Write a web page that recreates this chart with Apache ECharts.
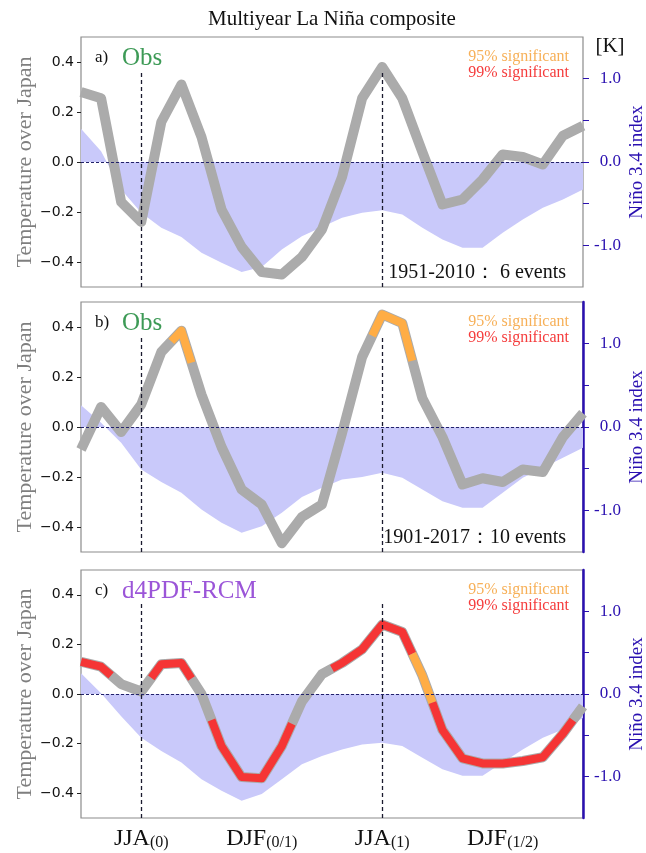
<!DOCTYPE html>
<html>
<head>
<meta charset="utf-8">
<script src="https://cdn.jsdelivr.net/npm/echarts@6.0.0/dist/echarts.min.js"></script>
<style>
  html, body { margin: 0; padding: 0; background: #fff; }
  #chart { width: 646px; height: 853px; }
</style>
</head>
<body>
<div id="chart"></div>
<script>
// months from Apr(0) to May(2)
const months = ['Apr(0)','May(0)','Jun(0)','Jul(0)','Aug(0)','Sep(0)','Oct(0)','Nov(0)','Dec(0)',
  'Jan(1)','Feb(1)','Mar(1)','Apr(1)','May(1)','Jun(1)','Jul(1)','Aug(1)','Sep(1)','Oct(1)','Nov(1)','Dec(1)',
  'Jan(2)','Feb(2)','Mar(2)','Apr(2)','May(2)'];
const seasonMonths = ['Jul(0)', 'Jan(1)', 'Jul(1)', 'Jan(2)'];
const seasonNames = ['JJA', 'DJF', 'JJA', 'DJF'];
const seasonYears = ['(0)', '(0/1)', '(1)', '(1/2)'];

// temperature over Japan [K]
const tempA = [0.28, 0.255, -0.16, -0.24, 0.16, 0.31, 0.10, -0.19, -0.34, -0.44, -0.45, -0.38, -0.27,
  -0.06, 0.255, 0.38, 0.255, 0.04, -0.17, -0.15, -0.07, 0.03, 0.02, -0.01, 0.105, 0.145];
const tempB = [-0.09, 0.08, -0.02, 0.09, 0.30, 0.385, 0.13, -0.08, -0.25, -0.31, -0.465, -0.36, -0.31,
  -0.025, 0.28, 0.45, 0.415, 0.115, -0.04, -0.23, -0.205, -0.22, -0.17, -0.18, -0.04, 0.055];
const tempC = [0.13, 0.11, 0.04, 0.01, 0.12, 0.125, 0.0, -0.21, -0.335, -0.34, -0.21, -0.03, 0.08,
  0.125, 0.18, 0.28, 0.25, 0.075, -0.145, -0.26, -0.28, -0.28, -0.27, -0.255, -0.16, -0.05];

// significance: 0 none, 1 95%, 2 99%
const sigA = [0,0,0,0,0,0,0,0,0,0,0,0,0,0,0,0,0,0,0,0,0,0,0,0,0,0];
const sigB = [0,0,0,0,0,1,0,0,0,0,0,0,0,0,0,1,1,0,0,0,0,0,0,0,0,0];
const sigC = [2,2,0,0,2,2,0,2,2,2,2,0,0,2,2,2,2,1,2,2,2,2,2,2,2,0];

// Nino 3.4 index
const ninoA = [0.40, 0.13, -0.33, -0.61, -0.79, -0.90, -1.09, -1.21, -1.32, -1.26, -1.05, -0.89, -0.78,
  -0.67, -0.61, -0.58, -0.63, -0.79, -0.93, -1.03, -1.03, -0.85, -0.69, -0.55, -0.45, -0.33];
const ninoB = [0.26, 0.05, -0.19, -0.51, -0.66, -0.79, -0.99, -1.15, -1.27, -1.19, -1.03, -0.84, -0.73,
  -0.63, -0.60, -0.55, -0.61, -0.75, -0.89, -0.97, -0.97, -0.79, -0.61, -0.49, -0.37, -0.25];
const ninoC = [0.25, 0.01, -0.27, -0.53, -0.69, -0.83, -1.03, -1.17, -1.29, -1.21, -1.03, -0.85, -0.75,
  -0.67, -0.61, -0.59, -0.63, -0.77, -0.91, -0.99, -0.99, -0.83, -0.67, -0.53, -0.43, -0.29];

const tempTicks = [-0.4, -0.2, 0, 0.2, 0.4];
const ninoLabels = [-1, 0, 1];
const ninoTicks = [-1, -0.5, 0, 0.5, 1];

const panels = [
  { tag: 'a)', src: 'Obs', srcColor: '#3d9a56', period: '1951-2010\uFF1A 6 events',
    temp: tempA, sig: sigA, nino: ninoA, top: 37, height: 250, blueSpine: false },
  { tag: 'b)', src: 'Obs', srcColor: '#3d9a56', period: '1901-2017\uFF1A10 events',
    temp: tempB, sig: sigB, nino: ninoB, top: 302, height: 250, blueSpine: true },
  { tag: 'c)', src: 'd4PDF-RCM', srcColor: '#9b55d8', period: '',
    temp: tempC, sig: sigC, nino: ninoC, top: 570, height: 248, blueSpine: true }
];

const SERIF = '"Liberation Serif", "Times New Roman", serif';
const SANS = '"DejaVu Sans", sans-serif';
const BLUE = '#2a10b0';
const sigColors = [null, '#ffad45', '#f53535'];
const seasonIdx = seasonMonths.map(m => months.indexOf(m));
const lastIdx = months.length - 1;

// runs of significant months; each month colours the line from i-0.5 to i+0.5
function sigRuns(temp, sig) {
  const runs = [];
  let i = 0;
  while (i < sig.length) {
    if (!sig[i]) { i++; continue; }
    let j = i;
    while (j + 1 < sig.length && sig[j + 1] === sig[i]) j++;
    const pts = [];
    if (i > 0) pts.push([i - 0.5, (temp[i - 1] + temp[i]) / 2]);
    for (let m = i; m <= j; m++) pts.push([m, temp[m]]);
    if (j < sig.length - 1) pts.push([j + 0.5, (temp[j] + temp[j + 1]) / 2]);
    runs.push({ color: sigColors[sig[i]], pts });
    i = j + 1;
  }
  return runs;
}

const chart = echarts.init(document.getElementById('chart'));

const grid = [], xAxis = [], yAxis = [], series = [], graphic = [];

panels.forEach((p, k) => {
  const last = k === panels.length - 1;
  grid.push({ left: 81, right: 63, top: p.top, height: p.height, show: true,
    borderColor: '#8c8c8c', borderWidth: 1.2, backgroundColor: 'transparent' });

  xAxis.push({
    type: 'value', gridIndex: k, min: 0, max: lastIdx,
    axisLine: { show: false },
    splitLine: { show: false },
    axisTick: { show: true, customValues: seasonIdx, length: 5, lineStyle: { color: '#888' } },
    axisLabel: {
      show: last, customValues: seasonIdx, margin: 9,
      formatter: v => {
        const j = seasonIdx.indexOf(v);
        return j < 0 ? '' : seasonNames[j] + '{s|' + seasonYears[j] + '}';
      },
      fontFamily: SERIF, fontSize: 24, color: '#111',
      rich: { s: { fontFamily: SERIF, fontSize: 16, color: '#111', verticalAlign: 'bottom' } }
    }
  });

  yAxis.push({
    type: 'value', gridIndex: k, min: -0.5, max: 0.5, position: 'left',
    axisLine: { show: false },
    splitLine: { show: false },
    axisTick: { show: true, customValues: tempTicks, length: 4, lineStyle: { color: '#222' } },
    axisLabel: { customValues: tempTicks, margin: 7, fontFamily: SANS, fontSize: 14, color: '#111',
      formatter: v => (v < 0 ? '\u2212' : '') + Math.abs(v).toFixed(1) }
  });
  yAxis.push({
    type: 'value', gridIndex: k, min: -1.5, max: 1.5, position: 'right',
    axisLine: { show: p.blueSpine, lineStyle: { color: BLUE, width: 2.5 } },
    splitLine: { show: false },
    axisTick: { show: true, customValues: ninoTicks, length: 6, lineStyle: { color: BLUE } },
    axisLabel: { customValues: ninoLabels, margin: 38, align: 'right', fontFamily: SERIF, fontSize: 17, color: BLUE,
      formatter: v => v.toFixed(1) }
  });

  // Nino 3.4 shading + reference lines
  series.push({
    type: 'line', xAxisIndex: k, yAxisIndex: 2 * k + 1, z: 1,
    data: p.nino.map((v, i) => [i, v]),
    symbol: 'none', lineStyle: { width: 0 },
    areaStyle: { color: '#c9c9fa', opacity: 1 },
    silent: true,
    markLine: {
      silent: true, symbol: 'none', label: { show: false },
      data: [
        [{ coord: [0, 0], lineStyle: { color: '#22226a', type: [3, 2], width: 1 } },
         { coord: [lastIdx, 0] }],
        [{ coord: [seasonIdx[0], -1.5], lineStyle: { color: '#1a1a2e', type: [4, 3], width: 1.3 } },
         { coord: [seasonIdx[0], 1.1] }],
        [{ coord: [seasonIdx[2], -1.5], lineStyle: { color: '#1a1a2e', type: [4, 3], width: 1.3 } },
         { coord: [seasonIdx[2], 1.1] }]
      ]
    }
  });

  // temperature line (grey base)
  series.push({
    type: 'line', xAxisIndex: k, yAxisIndex: 2 * k, z: 3,
    data: p.temp.map((v, i) => [i, v]),
    symbol: 'none', silent: true,
    lineStyle: { color: '#ababab', width: 10, join: 'round', cap: 'butt' }
  });

  // significance overlay segments
  sigRuns(p.temp, p.sig).forEach(r => {
    series.push({
      type: 'line', xAxisIndex: k, yAxisIndex: 2 * k, z: 4,
      data: r.pts, symbol: 'none', silent: true,
      lineStyle: { color: r.color, width: 8, join: 'round', cap: 'butt' }
    });
  });

  // texts
  const t = p.top;
  graphic.push({ type: 'text', x: 95, y: t + 21, style: { text: p.tag, font: '17px ' + SERIF, fill: '#111', verticalAlign: 'middle' } });
  graphic.push({ type: 'text', x: 122, y: t + 21, style: { text: p.src, font: '25px ' + SERIF, fill: p.srcColor, verticalAlign: 'middle' } });
  graphic.push({ type: 'text', x: 569, y: t + 20, style: { text: '95% significant', font: '16px ' + SERIF, fill: '#f7b058', align: 'right', verticalAlign: 'middle' } });
  graphic.push({ type: 'text', x: 569, y: t + 36, style: { text: '99% significant', font: '16px ' + SERIF, fill: '#f53c3c', align: 'right', verticalAlign: 'middle' } });
  if (p.period) {
    graphic.push({ type: 'text', x: 566, y: t + p.height - 14, style: { text: p.period, font: '20px ' + SERIF, fill: '#111', align: 'right', verticalAlign: 'middle' } });
  }
  const zeroY = t + p.height / 2;
  graphic.push({ type: 'text', x: 25, y: zeroY, rotation: Math.PI / 2,
    style: { text: 'Temperature over Japan', font: '22px ' + SERIF, fill: '#7f7f7f', align: 'center', verticalAlign: 'middle' } });
  graphic.push({ type: 'text', x: 637, y: zeroY, rotation: Math.PI / 2,
    style: { text: 'Ni\u00f1o 3.4 index', font: '19px ' + SERIF, fill: BLUE, align: 'center', verticalAlign: 'middle' } });
});

graphic.push({ type: 'text', x: 332, y: 19, style: { text: 'Multiyear La Ni\u00f1a composite', font: '21px ' + SERIF, fill: '#111', align: 'center', verticalAlign: 'middle' } });
graphic.push({ type: 'text', x: 610, y: 46, style: { text: '[K]', font: '21px ' + SERIF, fill: '#111', align: 'center', verticalAlign: 'middle' } });

chart.setOption({
  animation: false,
  backgroundColor: '#fff',
  grid, xAxis, yAxis, series, graphic
});

window.addEventListener('resize', function() {
  chart.resize();
});
</script>
</body>
</html>
